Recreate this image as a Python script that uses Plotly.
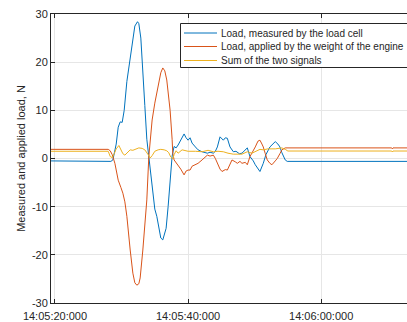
import pandas as pd
import plotly.graph_objects as go

BASE = pd.Timestamp("2021-06-01 14:05:20")

# seconds after 14:05:20 and values (N)
t_cell = [-0.6, 8.0, 8.4, 8.7, 9.2, 9.5, 9.8, 10.1, 10.4, 10.8, 11.3, 11.7, 12.0, 12.4, 12.6,
          12.9, 13.2, 13.5, 13.8, 14.1, 14.4, 14.7, 15.0, 15.3, 15.6, 15.9, 16.2, 16.4, 16.7,
          17.0, 17.3, 17.6, 17.9, 18.2, 18.5, 18.8, 19.1, 19.4, 19.7, 20.0, 20.3, 20.6, 21.1,
          21.5, 22.1, 22.9, 23.3, 23.8, 24.1, 24.4, 24.8, 25.3, 25.6, 25.9, 26.3, 26.8, 27.2,
          27.7, 28.1, 28.6, 28.9, 29.3, 29.8, 30.1, 30.5, 30.8, 31.3, 31.7, 32.3, 32.8, 33.1,
          33.5, 33.8, 34.1, 34.6, 34.9, 52.9]
v_cell = [-0.5, -0.5, -0.6, -0.3, 3.0, 6.5, 7.6, 7.5, 10.0, 16.0, 21.0, 25.5, 27.5, 28.4, 28.0,
          25.0, 19.0, 11.0, 4.0, 0.0, -4.0, -8.0, -10.5, -12.0, -14.5, -16.5, -16.9, -16.0, -14.5,
          -10.0, -4.0, 0.5, 2.5, 2.2, 2.8, 3.5, 4.3, 5.1, 4.3, 3.8, 4.3, 3.2, 2.4,
          1.8, 1.4, 1.1, 1.3, 1.1, 1.5, 2.4, 4.5, 3.8, 4.3, 4.2, 2.4, 1.4, 1.5,
          1.0, 1.1, 1.8, 2.2, 0.4, -0.5, -1.3, -2.2, -2.7, -1.0, 0.8, 2.4, 3.2, 3.5,
          3.0, 2.4, 1.2, -0.3, -0.6, -0.6]

t_engine = [-0.6, 8.0, 8.3, 8.6, 9.0, 9.5, 9.9, 10.2, 10.5, 10.8, 11.3, 11.7, 12.0, 12.3, 12.6,
            12.8, 13.2, 13.5, 13.8, 14.1, 14.4, 14.6, 15.0, 15.5, 15.9, 16.2, 16.5, 16.8, 17.1,
            17.3, 17.6, 17.7, 17.9, 18.2, 18.5, 18.9, 19.4, 19.7, 20.0, 20.3, 20.6, 21.1, 21.5,
            22.1, 22.6, 22.9, 23.3, 23.8, 24.1, 24.4, 24.8, 25.1, 25.6, 25.9, 26.3, 26.6, 27.1,
            27.4, 27.8, 28.1, 28.6, 28.9, 29.3, 29.8, 30.1, 30.5, 30.8, 31.1, 31.3, 31.6, 31.9,
            32.3, 32.6, 33.1, 33.4, 33.8, 34.1, 34.6, 50.6, 50.7, 50.8, 52.9]
v_engine = [1.9, 1.9, 1.6, 0.8, -1.0, -4.5, -6.0, -7.2, -9.0, -12.0, -19.0, -23.8, -25.8, -26.3, -26.0,
            -24.8, -19.0, -14.0, -8.6, 0.4, 4.5, 8.0, 11.5, 14.9, 17.8, 18.8, 18.2, 16.3, 12.5,
            10.0, 4.0, 1.1, -0.3, -0.8, -1.5, -2.2, -3.4, -2.6, -2.4, -2.4, -1.6, -1.3, -1.0,
            -0.3, 0.3, 0.7, 0.5, 0.7, 0.0, -1.0, -2.2, -2.7, -2.3, -2.4, -1.2, -0.3, -0.7,
            -1.0, -0.6, -1.0, -0.8, -1.3, 0.4, 1.5, 2.4, 3.6, 3.8, 3.0, 2.4, 1.0, -0.3,
            -1.0, -1.3, -0.5, 0.0, 1.0, 1.8, 2.2, 2.2, 2.0, 2.2, 2.2]

t_sum = [-0.6, 8.0, 8.3, 8.6, 8.9, 9.2, 9.6, 9.9, 10.2, 10.5, 10.8, 11.3, 11.7, 12.2, 12.6,
         13.1, 13.5, 14.0, 14.3, 14.6, 15.0, 15.5, 15.9, 16.4, 16.8, 17.1, 17.4, 17.7, 17.9,
         18.2, 18.5, 19.1, 20.0, 21.1, 22.1, 23.0, 23.8, 24.5, 25.3, 26.0, 26.8, 28.1, 28.9,
         29.6, 30.1, 30.8, 31.3, 32.0, 33.1, 34.1, 34.6, 35.0, 50.6, 50.7, 50.8, 52.9]
v_sum = [1.5, 1.5, 0.4, 0.2, 1.0, 2.0, 2.7, 1.8, 1.0, 0.7, 1.2, 1.8, 1.7, 2.0, 2.2,
         2.1, 1.8, 0.8, 0.1, 0.6, 1.5, 1.8, 1.9, 1.8, 1.6, 1.2, 0.3, -0.1, 0.8,
         1.6, 1.1, 1.8, 1.5, 1.5, 1.4, 1.7, 1.4, 1.5, 1.4, 1.1, 0.9, 0.9, 1.4,
         1.1, 1.5, 1.9, 1.8, 2.0, 2.0, 2.2, 1.9, 1.55, 1.55, 1.35, 1.55, 1.55]

y_ticks = [-30, -20, -10, 0, 10, 20, 30]
y_ticktext = ["-30", "-20", "-10", "0", "10", "20", "30"]

names = ["Load, measured by the load cell",
         "Load, applied by the weight of the engine",
         "Sum of the two signals"]
colors = ["#0072BD", "#D95319", "#EDB120"]

# plot-area geometry in pixels
W, H = 407, 322
ML, MR, MT, MB = 51, 0, 14, 19
PW, PH = W - ML - MR, H - MT - MB


def to_time(sec):
    return BASE + pd.to_timedelta(sec, unit="s")


def px(x):
    return (x - ML) / PW


def py(y):
    return (H - MB - y) / PH


fig = go.Figure()
for tt, vv, nm, col in [(t_cell, v_cell, names[0], colors[0]),
                        (t_engine, v_engine, names[1], colors[1]),
                        (t_sum, v_sum, names[2], colors[2])]:
    fig.add_trace(go.Scatter(x=to_time(tt), y=vv, mode="lines", name=nm,
                             line=dict(color=col, width=1), showlegend=False))

axis_col = "#262626"

# compact MATLAB-style legend box
shapes = [dict(type="rect", xref="paper", yref="paper",
               x0=px(180.5), x1=px(410), y0=py(67.5), y1=py(23.5),
               line=dict(color=axis_col, width=1), fillcolor="white", layer="above")]
annotations = []
row_y = [33, 46.5, 60.5]
for i in range(3):
    shapes.append(dict(type="line", xref="paper", yref="paper",
                       x0=px(184), x1=px(217), y0=py(row_y[i]), y1=py(row_y[i]),
                       line=dict(color=colors[i], width=1), layer="above"))
    annotations.append(dict(xref="paper", yref="paper", x=px(219), y=py(row_y[i]),
                            xanchor="left", yanchor="middle", showarrow=False,
                            text=names[i], font=dict(size=10, color=axis_col)))

fig.update_layout(
    width=W, height=H,
    margin=dict(l=ML, r=MR, t=MT, b=MB),
    plot_bgcolor="white", paper_bgcolor="white",
    font=dict(family="Liberation Sans, Arial, sans-serif", size=11, color=axis_col),
    showlegend=False,
    shapes=shapes, annotations=annotations,
    xaxis=dict(type="date", range=[to_time(-0.6), to_time(52.9)],
               tick0=BASE, dtick=20000, tickformat="%H:%M:%S:%L",
               ticks="inside", ticklen=4, tickcolor=axis_col, ticklabelstandoff=3,
               showline=True, linecolor=axis_col, linewidth=1, mirror="ticks",
               showgrid=True, gridcolor="#e6e6e6", zeroline=False),
    yaxis=dict(range=[-30, 30], tickvals=y_ticks, ticktext=y_ticktext,
               ticks="inside", ticklen=4, tickcolor=axis_col,
               showline=True, linecolor=axis_col, linewidth=1, mirror=False,
               showgrid=True, gridcolor="#e6e6e6", zeroline=False,
               title=dict(text="Measured and applied load, N", font=dict(size=11),
                          standoff=4)),
)

fig.write_html("out.html")
